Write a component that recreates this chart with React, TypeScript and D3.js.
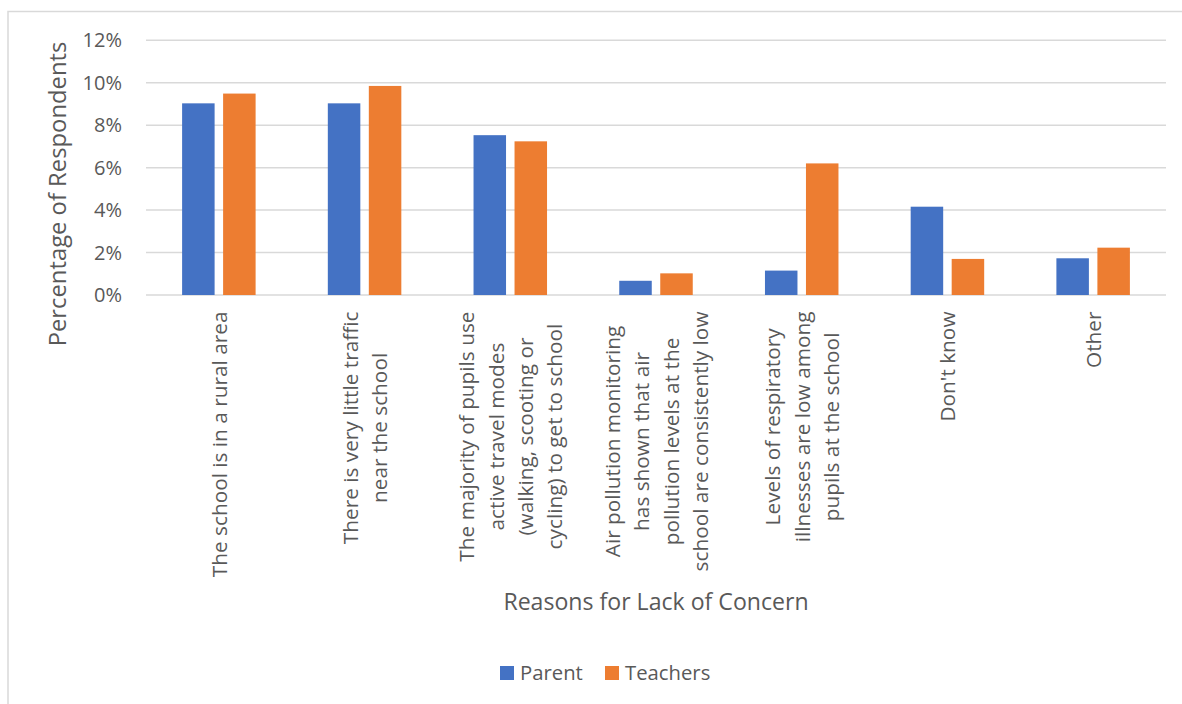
import React, { useEffect, useRef } from "react";
import * as d3 from "d3";

const categories: string[][] = [
  ["The school is in a rural area"],
  ["There is very little traffic", "near the school"],
  ["The majority of pupils use", "active travel modes", "(walking, scooting or", "cycling) to get to school"],
  ["Air pollution monitoring", "has shown that air", "pollution levels at the", "school are consistently low"],
  ["Levels of respiratory", "illnesses are low among", "pupils at the school"],
  ["Don't know"],
  ["Other"],
];
const parentValues = [9.03, 9.03, 7.53, 0.67, 1.15, 4.16, 1.73];
const teacherValues = [9.49, 9.85, 7.24, 1.02, 6.2, 1.7, 2.23];
const seriesNames = ["Parent", "Teachers"];
const seriesColors = ["#4472C4", "#ED7D31"];
const yTicks = [0, 2, 4, 6, 8, 10, 12];
const yTitle = "Percentage of Respondents";
const xTitle = "Reasons for Lack of Concern";

const FONT = "'Open Sans', sans-serif";
const TEXT = "#595959";
const GRID = "#d9d9d9";

export default function App() {
  const ref = useRef<SVGSVGElement>(null);
  useEffect(() => {
    const svg = d3.select(ref.current);
    svg.selectAll("*").remove();
    const g = svg.append("g");

    // outer border
    g.append("rect").attr("x", 8).attr("y", 11.5).attr("width", 1200).attr("height", 800)
      .attr("fill", "white").attr("stroke", GRID).attr("stroke-width", 1.5);

    const left = 146, right = 1166, top = 40.3, bottom = 295;
    const y = d3.scaleLinear().domain([0, 12]).range([bottom, top]);
    const x0 = d3.scaleBand().domain(d3.range(categories.length).map(String)).range([left, right]).paddingInner(0).paddingOuter(0);
    const bw = x0.bandwidth();
    const barW = 32.5, gap = 8.5;
    const x1 = d3.scaleBand().domain(seriesNames).range([bw / 2 - barW - gap / 2, bw / 2 + barW + gap / 2]).paddingInner(gap / (barW + gap));

    // gridlines
    g.append("g").selectAll("line").data(yTicks).join("line")
      .attr("x1", left).attr("x2", right)
      .attr("y1", d => y(d)).attr("y2", d => y(d))
      .attr("stroke", GRID).attr("stroke-width", 1.5);

    // y tick labels
    g.append("g").selectAll("text").data(yTicks).join("text")
      .attr("x", 122).attr("y", d => y(d)).attr("dy", "0.35em")
      .attr("text-anchor", "end").attr("font-family", FONT).attr("font-size", 20).attr("fill", TEXT)
      .text(d => `${d}%`);

    // bars
    const series = [parentValues, teacherValues];
    series.forEach((vals, si) => {
      g.append("g").selectAll("rect").data(vals).join("rect")
        .attr("x", (_, i) => (x0(String(i)) as number) + (x1(seriesNames[si]) as number))
        .attr("y", d => y(d))
        .attr("width", x1.bandwidth())
        .attr("height", d => bottom - y(d))
        .attr("fill", seriesColors[si]);
    });

    // category labels
    const lineH = 29.3;
    categories.forEach((lines, i) => {
      const cx = (x0(String(i)) as number) + bw / 2;
      const grp = g.append("g");
      const texts = lines.map((ln) =>
        grp.append("text").attr("font-family", FONT).attr("font-size", 20.8).attr("fill", TEXT)
          .attr("text-anchor", "middle").attr("dominant-baseline", "central").text(ln)
      );
      const maxW = d3.max(texts.map(t => (t.node() as SVGTextElement).getComputedTextLength())) || 0;
      const cy = 311.5 + maxW / 2;
      texts.forEach((t, k) => {
        const lx = cx + (k - (lines.length - 1) / 2) * lineH;
        t.attr("transform", `translate(${lx},${cy}) rotate(-90)`);
      });
    });

    // axis titles
    g.append("text").attr("transform", "translate(57,194) rotate(-90)")
      .attr("text-anchor", "middle").attr("dominant-baseline", "central")
      .attr("font-family", FONT).attr("font-size", 23.8).attr("fill", TEXT).text(yTitle);
    g.append("text").attr("x", (left + right) / 2).attr("y", 610)
      .attr("text-anchor", "middle").attr("font-family", FONT).attr("font-size", 23.1).attr("fill", TEXT).text(xTitle);

    // legend
    const legX = [500, 605];
    seriesNames.forEach((n, i) => {
      g.append("rect").attr("x", legX[i]).attr("y", 666).attr("width", 14).attr("height", 14).attr("fill", seriesColors[i]);
      g.append("text").attr("x", legX[i] + 20).attr("y", 680).attr("font-family", FONT).attr("font-size", 20.3).attr("fill", TEXT).text(n);
    });
  }, []);
  return <svg ref={ref} width={1182} height={704} style={{ position: "absolute", left: 0, top: 0, display: "block" }} />;
}
